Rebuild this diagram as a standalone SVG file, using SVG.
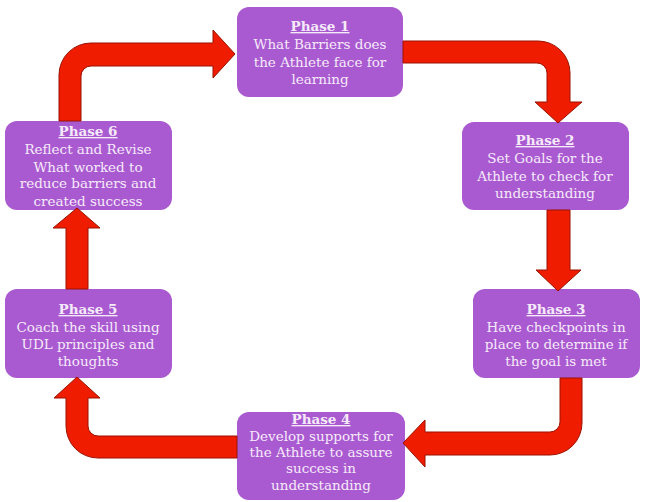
<svg xmlns="http://www.w3.org/2000/svg" width="646" height="502" viewBox="0 0 646 502">
<style>
.box{fill:#a95ad1;}
.arr{fill:#f01c00;stroke:#9a1200;stroke-width:1;stroke-linejoin:miter;}
text{font-family:"DejaVu Serif","Liberation Serif",serif;font-size:13.5px;fill:#f6eaf9;text-anchor:middle;}
.t{font-weight:bold;text-decoration:underline;}
</style>
<rect width="646" height="502" fill="#ffffff"/>
<g id="nodes">
<g id="phase1">
<rect class="box" x="237" y="7" width="166" height="90" rx="12"/>
<text x="320" y="31" class="t">Phase 1</text>
<text x="320" y="49">What Barriers does</text>
<text x="320" y="67">the Athlete face for</text>
<text x="320" y="84">learning</text>
</g>
<g id="phase2">
<rect class="box" x="462" y="122" width="167" height="88" rx="12"/>
<text x="545" y="145" class="t">Phase 2</text>
<text x="545" y="163">Set Goals for the</text>
<text x="545" y="181">Athlete to check for</text>
<text x="545" y="198">understanding</text>
</g>
<g id="phase3">
<rect class="box" x="473" y="289" width="167" height="89" rx="12"/>
<text x="556" y="314" class="t">Phase 3</text>
<text x="556" y="332">Have checkpoints in</text>
<text x="556" y="349">place to determine if</text>
<text x="556" y="366">the goal is met</text>
</g>
<g id="phase4">
<rect class="box" x="237" y="412" width="168" height="88" rx="12"/>
<text x="321" y="424" class="t">Phase 4</text>
<text x="321" y="441">Develop supports for</text>
<text x="321" y="457">the Athlete to assure</text>
<text x="321" y="473">success in</text>
<text x="321" y="490">understanding</text>
</g>
<g id="phase5">
<rect class="box" x="5" y="289" width="167" height="89" rx="12"/>
<text x="88" y="314" class="t">Phase 5</text>
<text x="88" y="332">Coach the skill  using</text>
<text x="88" y="349">UDL principles  and</text>
<text x="88" y="366">thoughts</text>
</g>
<g id="phase6">
<rect class="box" x="5" y="121" width="167" height="89" rx="12"/>
<text x="88" y="136" class="t">Phase 6</text>
<text x="88" y="154">Reflect and Revise</text>
<text x="88" y="172">What worked to</text>
<text x="88" y="188">reduce barriers and</text>
<text x="88" y="206">created success</text>
</g>
</g>
<g id="connectors">
<path class="arr" d="M403,41 H538 A32,32 0 0 1 570,73 V102 H582 L558,123 L535,102 H547 V73 A10,10 0 0 0 537,63 H403 Z"/>
<path class="arr" d="M547,210 H570 V270 H581 L558,291 L536,270 H547 Z"/>
<path class="arr" d="M560,378 H582 V423 A32,32 0 0 1 550,455 H425 V467 L403,443 L425,420 V432 H550 A10,10 0 0 0 560,422 Z"/>
<path class="arr" d="M237,436 V458 H98 A32,32 0 0 1 66,426 V398 H54 L77,377 L100,398 H88 V426 A10,10 0 0 0 98,436 Z"/>
<path class="arr" d="M66,289 V228 H53 L77,208 L100,228 H88 V289 Z"/>
<path class="arr" d="M59,121 V75 A32,32 0 0 1 91,43 H213 V30 L235,54 L213,78 V66 H91 A10,10 0 0 0 81,76 V121 Z"/>
</g>
</svg>
